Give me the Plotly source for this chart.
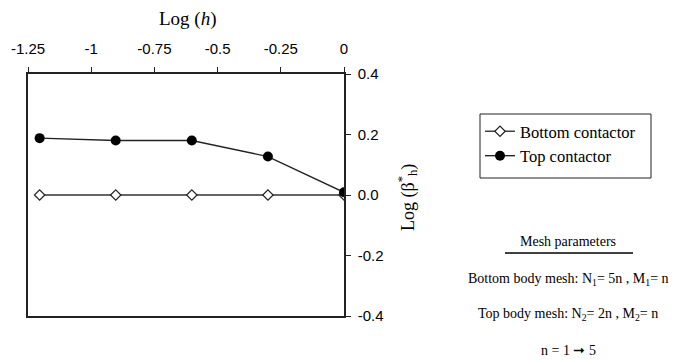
import plotly.graph_objects as go

W, H = 682, 362
log_h = [-1.204, -0.903, -0.602, -0.301, 0.0]
bottom_contactor = [0.0, 0.0, 0.0, 0.0, 0.0]
top_contactor = [0.188, 0.180, 0.180, 0.127, 0.009]
x_ticks = [-1.25, -1, -0.75, -0.5, -0.25, 0]
x_tick_labels = ["-1.25", "-1", "-0.75", "-0.5", "-0.25", "0"]
y_ticks = [-0.4, -0.2, 0.0, 0.2, 0.4]
y_tick_labels = ["-0.4", "-0.2", "0.0", "0.2", "0.4"]

def px(x):
    return x / W

def py(y):
    return 1 - y / H

fig = go.Figure()
fig.add_trace(go.Scatter(
    x=log_h, y=bottom_contactor, name="Bottom contactor", mode="lines+markers",
    line=dict(color="#333333", width=1.4),
    marker=dict(symbol="diamond", size=8, color="white", line=dict(color="#222222", width=1.2)),
))
fig.add_trace(go.Scatter(
    x=log_h, y=top_contactor, name="Top contactor", mode="lines+markers",
    line=dict(color="#222222", width=1.4),
    marker=dict(symbol="circle", size=10, color="black"),
))

serif = "Liberation Serif"
sans = "Liberation Sans"

fig.update_layout(
    width=W, height=H, margin=dict(l=0, r=0, t=0, b=0, autoexpand=False),
    paper_bgcolor="white", plot_bgcolor="white",
    showlegend=True,
    legend=dict(
        x=px(480), y=py(114), xanchor="left", yanchor="top",
        borderwidth=0, bgcolor="rgba(0,0,0,0)",
        font=dict(family=serif, size=16.5, color="black"),
        itemwidth=30, tracegroupgap=3,
    ),
    xaxis=dict(
        domain=[px(28), px(344)], range=[-1.25, 0], side="top",
        tickvals=x_ticks, ticktext=x_tick_labels, automargin=False,
        ticks="outside", ticklen=5, tickcolor="#222222", ticklabelstandoff=7,
        showline=True, linecolor="#222222", linewidth=1.5, mirror=True,
        showgrid=False, zeroline=False,
        tickfont=dict(family=sans, size=15, color="black"),
    ),
    yaxis=dict(
        domain=[py(316), py(74)], range=[-0.4, 0.4], side="right",
        tickvals=y_ticks, ticktext=y_tick_labels, automargin=False,
        ticks="outside", ticklen=5, tickcolor="#222222", ticklabelstandoff=4,
        showline=True, linecolor="#222222", linewidth=1.5, mirror=True,
        showgrid=False, zeroline=False,
        tickfont=dict(family=sans, size=15, color="black"),
    ),
)

def note(text, x, y, size=14, angle=0):
    return dict(text=text, x=px(x), y=py(y), xref="paper", yref="paper",
                xanchor="center", yanchor="middle", showarrow=False, textangle=angle,
                font=dict(family=serif, size=size, color="black"))

ann = [
    note("Log (<i>h</i>)", 188, 19, size=19),
    note("Log (β<sup>*</sup><sub>h</sub>)", 407, 198, size=18, angle=-90),
    note("Mesh parameters", 568, 242),
    note("Bottom body mesh: N<sub>1</sub>= 5n , M<sub>1</sub>= n", 568, 279),
    note("Top body mesh: N<sub>2</sub>= 2n , M<sub>2</sub>= n", 568, 314),
    note("n = 1 ➞ 5", 568, 350),
]
fig.update_layout(annotations=ann)
# legend frame
fig.add_shape(type="rect", xref="paper", yref="paper", x0=px(480), x1=px(651), y0=py(114), y1=py(178),
              line=dict(color="#222222", width=1), fillcolor="rgba(0,0,0,0)", layer="below")
fig.add_shape(type="line", xref="paper", yref="paper", x0=px(505), x1=px(633), y0=py(253), y1=py(253),
              line=dict(color="black", width=1.5))

fig.write_html("out.html")
